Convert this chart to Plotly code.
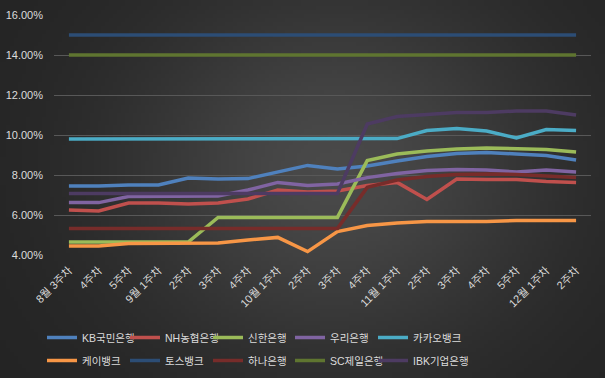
import base64
import struct
import zlib

import numpy as np
import plotly.graph_objects as go

# ---------------- data ----------------
weeks = ["8월 3주차", "4주차", "5주차", "9월 1주차", "2주차", "3주차", "4주차",
         "10월 1주차", "2주차", "3주차", "4주차", "11월 1주차", "2주차", "3주차",
         "4주차", "5주차", "12월 1주차", "2주차"]

kb = [7.45, 7.45, 7.50, 7.50, 7.85, 7.80, 7.82, 8.15, 8.48, 8.30, 8.45, 8.70,
      8.92, 9.08, 9.12, 9.05, 8.97, 8.75]
nh = [6.25, 6.20, 6.60, 6.60, 6.55, 6.60, 6.80, 7.25, 7.15, 7.20, 7.47, 7.63,
      6.78, 7.80, 7.78, 7.78, 7.67, 7.62]
shinhan = [4.65, 4.65, 4.65, 4.65, 4.65, 5.88, 5.88, 5.88, 5.88, 5.88, 8.72, 9.05,
           9.20, 9.30, 9.35, 9.33, 9.28, 9.15]
woori = [6.62, 6.62, 6.92, 6.92, 6.92, 6.95, 7.25, 7.63, 7.47, 7.55, 7.87, 8.08,
         8.22, 8.27, 8.25, 8.15, 8.25, 8.15]
kakao = [9.80, 9.80, 9.80, 9.80, 9.80, 9.80, 9.80, 9.80, 9.80, 9.80, 9.80, 9.82,
         10.22, 10.33, 10.20, 9.85, 10.27, 10.22]
kbank = [4.45, 4.45, 4.58, 4.60, 4.60, 4.60, 4.75, 4.88, 4.17, 5.17, 5.47, 5.60,
         5.67, 5.67, 5.68, 5.72, 5.73, 5.73]
toss = [15.0] * 18
hana = [5.32, 5.32, 5.32, 5.32, 5.32, 5.32, 5.32, 5.32, 5.32, 5.32, 7.38, 7.75,
        7.92, 8.03, 8.05, 8.03, 7.95, 7.87]
sc = [14.0] * 18
ibk = [7.08, 7.08, 7.08, 7.08, 7.08, 7.08, 7.08, 7.08, 7.08, 7.08, 10.55, 10.92,
       11.03, 11.12, 11.13, 11.20, 11.20, 11.00]

names = ["KB국민은행", "NH농협은행", "신한은행", "우리은행", "카카오뱅크",
         "케이뱅크", "토스뱅크", "하나은행", "SC제일은행", "IBK기업은행"]
values = [kb, nh, shinhan, woori, kakao, kbank, toss, hana, sc, ibk]
colors = ["#4F81BD", "#C0504D", "#9BBB59", "#8064A2", "#4BACC6",
          "#F79646", "#2C4D75", "#772C2A", "#5F7530", "#4D3B62"]

y_ticks = [4, 6, 8, 10, 12, 14, 16]
y_ticktext = ["4.00%", "6.00%", "8.00%", "10.00%", "12.00%", "14.00%", "16.00%"]

# ---------------- layout constants ----------------
W, H = 605, 378
ML, MR, MT, MB = 54, 14, 15, 123
LEG_COL_X = [42, 125, 208, 290, 373]     # legend box left edges (px)
LEG_ROW_TOP = [323, 346]                 # legend box top edges (px)


def gradient_uri():
    gw, gh = 152, 95
    xs = (np.arange(gw) + 0.5) / gw * W
    ys = (np.arange(gh) + 0.5) / gh * H
    X, Y = np.meshgrid(xs, ys)
    r = np.sqrt(((X - 335) / 300.0) ** 2 + ((Y - 170) / 260.0) ** 2)
    g = 35 + 38 * np.exp(-(r / 0.72) ** 2)
    g = np.clip(np.round(g), 0, 255).astype(np.uint8)
    raw = b"".join(b"\x00" + g[i].tobytes() for i in range(gh))

    def chunk(t, d):
        c = struct.pack(">I", len(d)) + t + d
        return c + struct.pack(">I", zlib.crc32(t + d) & 0xFFFFFFFF)

    png = (b"\x89PNG\r\n\x1a\n"
           + chunk(b"IHDR", struct.pack(">IIBBBBB", gw, gh, 8, 0, 0, 0, 0))
           + chunk(b"IDAT", zlib.compress(raw))
           + chunk(b"IEND", b""))
    return "data:image/png;base64," + base64.b64encode(png).decode()


FONT = "Liberation Sans, Noto Sans CJK KR, sans-serif"
TXT = "#dcdcdc"

fig = go.Figure()
x = list(range(len(weeks)))
legend_ids = ["legend" if i == 0 else "legend%d" % (i + 1) for i in range(len(names))]
for name, vals, col, lid in zip(names, values, colors, legend_ids):
    fig.add_trace(go.Scatter(
        x=x, y=vals, name=name, mode="lines",
        line=dict(color=col, width=3.5),
        legend=lid, hoverinfo="skip",
    ))

pw = W - ML - MR
ph = H - MT - MB

legends = {}
for i, lid in enumerate(legend_ids):
    row, col = divmod(i, 5)
    legends[lid] = dict(
        orientation="h", xref="container", yref="container",
        x=LEG_COL_X[col] / W, xanchor="left",
        y=1 - LEG_ROW_TOP[row] / H, yanchor="top",
        itemwidth=30, bgcolor="rgba(0,0,0,0)", borderwidth=0,
        font=dict(family=FONT, size=10.5, color=TXT),
    )

fig.update_layout(
    width=W, height=H,
    margin=dict(l=ML, r=MR, t=MT, b=MB, autoexpand=False),
    paper_bgcolor="#383838",
    plot_bgcolor="rgba(0,0,0,0)",
    font=dict(family=FONT, size=11, color=TXT),
    images=[dict(
        source=gradient_uri(), xref="paper", yref="paper",
        x=-ML / pw, y=1 + MT / ph, sizex=W / pw, sizey=H / ph,
        xanchor="left", yanchor="top", sizing="stretch", layer="below",
    )],
    xaxis=dict(
        range=[-0.5, len(weeks) - 0.5],
        tickmode="array", tickvals=x, ticktext=weeks, tickangle=-45,
        showgrid=False, zeroline=False, showline=False, ticks="",
        tickfont=dict(family=FONT, size=11, color=TXT),
        ticklabelstandoff=6,
    ),
    yaxis=dict(
        range=[4, 16], tickmode="array", tickvals=y_ticks, ticktext=y_ticktext,
        showgrid=True, gridcolor="#585858", gridwidth=1,
        zeroline=False, showline=False, ticks="",
        tickfont=dict(family=FONT, size=11, color=TXT),
        ticklabelstandoff=10,
    ),
    showlegend=True,
    **legends,
)

fig.write_html(
    "out.html",
    config={"displayModeBar": False, "staticPlot": True},
    post_script="document.body.style.margin='0';document.body.style.overflow='hidden';"
                "document.body.style.background='#262626';",
)
